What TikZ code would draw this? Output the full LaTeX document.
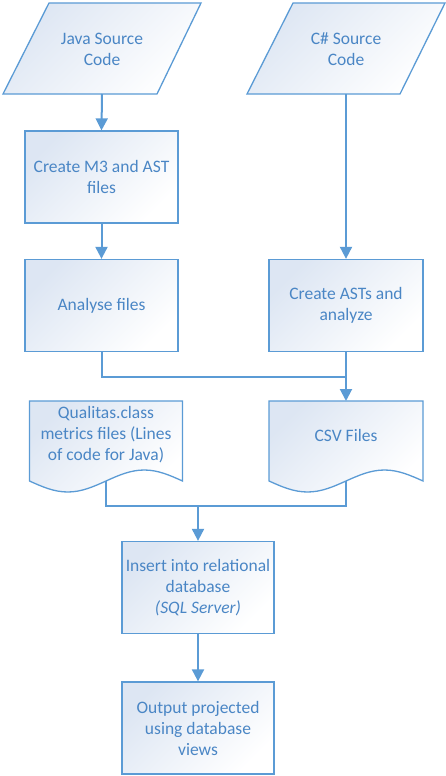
\documentclass[tikz,border=0pt]{standalone}
\usepackage{fontspec}
\setmainfont{Carlito}
\usetikzlibrary{arrows.meta}
\definecolor{lineblue}{HTML}{5B9BD5}
\definecolor{textblue}{HTML}{4A86C5}
\definecolor{fillblue}{HTML}{DDE6F3}
\tikzset{
  shapefill/.style={draw=lineblue, line width=1.3bp, left color=fillblue, right color=white, shading angle=45},
  procbox/.style={shapefill, rectangle, minimum width=153bp, minimum height=92bp, inner sep=0pt},
  lbl/.style={text=textblue, align=center, font=\fontsize{17.5bp}{21bp}\selectfont},
  conn/.style={draw=lineblue, line width=2bp},
  arr/.style={conn, -{Triangle[width=12bp,length=12bp]}}
}
\begin{document}
\begin{tikzpicture}[x=1bp,y=-1bp]
\useasboundingbox (0,0) rectangle (446,776);
% Java source parallelogram
\path[shapefill] (49,3) -- (201,3) -- (157,94) -- (3,94) -- cycle;
\node[lbl] (java) at (102,49) {Java Source\\Code};
\coordinate (javab) at (102,94);
% C# source parallelogram
\path[shapefill] (293,3) -- (445,3) -- (400,94) -- (247,94) -- cycle;
\node[lbl] (cs) at (346,49) {C\# Source\\Code};
\coordinate (csb) at (346,94);
% process boxes
\node[procbox, lbl] (m3) at (101.5,177) {Create M3 and AST\\files};
\node[procbox, lbl] (analyse) at (101.5,305.5) {Analyse files};
\node[procbox, lbl, minimum width=154bp] (asts) at (346,305.5) {Create ASTs and\\analyze};
\node[procbox, lbl, minimum width=152bp] (insert) at (198,587.5) {Insert into relational\\database\\\textit{(SQL Server)}};
\node[procbox, lbl, minimum width=152bp] (output) at (198,728) {Output projected\\using database\\views};
% document shapes
\path[shapefill] (29.5,401) -- (182.5,401) -- (182.5,481)
  sin (144.25,470) cos (106,481) sin (67.75,492) cos (29.5,481) -- cycle;
\node[lbl] (qual) at (106,435) {Qualitas.class\\metrics files (Lines\\of code for Java)};
\coordinate (qualt) at (106,401);
\coordinate (qualb) at (106,481);
\path[shapefill] (269,401) -- (423,401) -- (423,481)
  sin (384.5,470) cos (346,481) sin (307.5,492) cos (269,481) -- cycle;
\node[lbl] (csv) at (346,435) {CSV Files};
\coordinate (csvt) at (346,401);
\coordinate (csvb) at (346,481);
% connectors
\draw[arr] (javab) -- (m3.north);
\draw[arr] (m3.south) -- (analyse.north);
\draw[arr] (csb) -- (asts.north);
\coordinate (j1) at (346,377);
\draw[conn] (analyse.south) |- (j1);
\draw[arr] (asts.south) -- (csvt);
\coordinate (j2) at (346,506);
\coordinate (j3) at (198,506);
\draw[conn] (qualb) |- (j2) -- (csvb);
\draw[arr] (j3) -- (insert.north);
\draw[arr] (insert.south) -- (output.north);
\end{tikzpicture}
\end{document}
